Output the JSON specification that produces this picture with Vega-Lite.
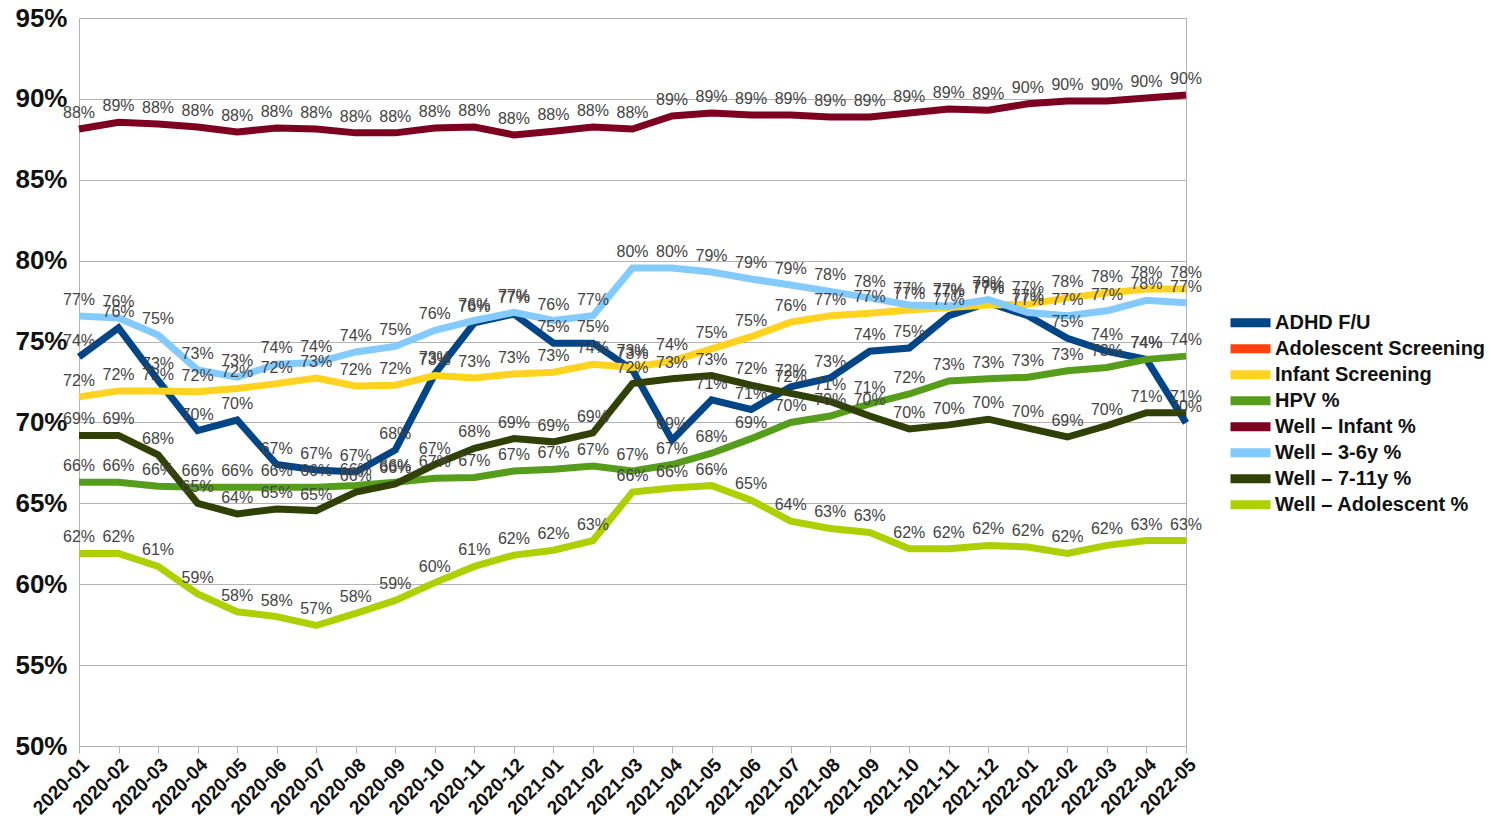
{
  "$schema": "https://vega.github.io/schema/vega-lite/v6.json",
  "autosize": "none",
  "padding": {"left": 79, "top": 18, "right": 305, "bottom": 83},
  "width": 1107,
  "height": 728,
  "background": "white",
  "config": {
    "font": "Liberation Sans",
    "view": {"stroke": "#b3b3b3", "strokeWidth": 1}
  },
  "data": {
    "values": [
      {"month": "2020-01", "ADHD F/U": 0.7405, "Infant Screening": 0.7158, "HPV %": 0.663, "Well – Infant %": 0.8814, "Well – 3-6y %": 0.7658, "Well – 7-11y %": 0.692, "Well – Adolescent %": 0.619},
      {"month": "2020-02", "ADHD F/U": 0.7584, "Infant Screening": 0.7195, "HPV %": 0.663, "Well – Infant %": 0.8855, "Well – 3-6y %": 0.7646, "Well – 7-11y %": 0.692, "Well – Adolescent %": 0.619},
      {"month": "2020-03", "ADHD F/U": 0.726, "Infant Screening": 0.7195, "HPV %": 0.6605, "Well – Infant %": 0.8845, "Well – 3-6y %": 0.754, "Well – 7-11y %": 0.68, "Well – Adolescent %": 0.611},
      {"month": "2020-04", "ADHD F/U": 0.695, "Infant Screening": 0.719, "HPV %": 0.66, "Well – Infant %": 0.8826, "Well – 3-6y %": 0.7325, "Well – 7-11y %": 0.65, "Well – Adolescent %": 0.594},
      {"month": "2020-05", "ADHD F/U": 0.7015, "Infant Screening": 0.721, "HPV %": 0.66, "Well – Infant %": 0.8795, "Well – 3-6y %": 0.728, "Well – 7-11y %": 0.6435, "Well – Adolescent %": 0.583},
      {"month": "2020-06", "ADHD F/U": 0.674, "Infant Screening": 0.724, "HPV %": 0.66, "Well – Infant %": 0.882, "Well – 3-6y %": 0.736, "Well – 7-11y %": 0.6465, "Well – Adolescent %": 0.58},
      {"month": "2020-07", "ADHD F/U": 0.6706, "Infant Screening": 0.7275, "HPV %": 0.66, "Well – Infant %": 0.8814, "Well – 3-6y %": 0.737, "Well – 7-11y %": 0.6455, "Well – Adolescent %": 0.5745},
      {"month": "2020-08", "ADHD F/U": 0.6694, "Infant Screening": 0.7226, "HPV %": 0.661, "Well – Infant %": 0.879, "Well – 3-6y %": 0.7436, "Well – 7-11y %": 0.657, "Well – Adolescent %": 0.582},
      {"month": "2020-09", "ADHD F/U": 0.683, "Infant Screening": 0.723, "HPV %": 0.663, "Well – Infant %": 0.879, "Well – 3-6y %": 0.747, "Well – 7-11y %": 0.662, "Well – Adolescent %": 0.59},
      {"month": "2020-10", "ADHD F/U": 0.73, "Infant Screening": 0.729, "HPV %": 0.6655, "Well – Infant %": 0.882, "Well – 3-6y %": 0.757, "Well – 7-11y %": 0.674, "Well – Adolescent %": 0.601},
      {"month": "2020-11", "ADHD F/U": 0.7615, "Infant Screening": 0.7275, "HPV %": 0.666, "Well – Infant %": 0.8826, "Well – 3-6y %": 0.763, "Well – 7-11y %": 0.684, "Well – Adolescent %": 0.611},
      {"month": "2020-12", "ADHD F/U": 0.767, "Infant Screening": 0.73, "HPV %": 0.67, "Well – Infant %": 0.8777, "Well – 3-6y %": 0.768, "Well – 7-11y %": 0.69, "Well – Adolescent %": 0.618},
      {"month": "2021-01", "ADHD F/U": 0.749, "Infant Screening": 0.731, "HPV %": 0.671, "Well – Infant %": 0.88, "Well – 3-6y %": 0.763, "Well – 7-11y %": 0.688, "Well – Adolescent %": 0.621},
      {"month": "2021-02", "ADHD F/U": 0.749, "Infant Screening": 0.736, "HPV %": 0.673, "Well – Infant %": 0.8826, "Well – 3-6y %": 0.766, "Well – 7-11y %": 0.6935, "Well – Adolescent %": 0.627},
      {"month": "2021-03", "ADHD F/U": 0.7325, "Infant Screening": 0.734, "HPV %": 0.67, "Well – Infant %": 0.8814, "Well – 3-6y %": 0.7955, "Well – 7-11y %": 0.724, "Well – Adolescent %": 0.657},
      {"month": "2021-04", "ADHD F/U": 0.689, "Infant Screening": 0.738, "HPV %": 0.674, "Well – Infant %": 0.8894, "Well – 3-6y %": 0.7955, "Well – 7-11y %": 0.727, "Well – Adolescent %": 0.6595},
      {"month": "2021-05", "ADHD F/U": 0.714, "Infant Screening": 0.7455, "HPV %": 0.681, "Well – Infant %": 0.8913, "Well – 3-6y %": 0.793, "Well – 7-11y %": 0.729, "Well – Adolescent %": 0.661},
      {"month": "2021-06", "ADHD F/U": 0.708, "Infant Screening": 0.753, "HPV %": 0.69, "Well – Infant %": 0.89, "Well – 3-6y %": 0.7887, "Well – 7-11y %": 0.723, "Well – Adolescent %": 0.652},
      {"month": "2021-07", "ADHD F/U": 0.722, "Infant Screening": 0.762, "HPV %": 0.7, "Well – Infant %": 0.89, "Well – 3-6y %": 0.785, "Well – 7-11y %": 0.718, "Well – Adolescent %": 0.639},
      {"month": "2021-08", "ADHD F/U": 0.7275, "Infant Screening": 0.766, "HPV %": 0.704, "Well – Infant %": 0.8888, "Well – 3-6y %": 0.781, "Well – 7-11y %": 0.713, "Well – Adolescent %": 0.6345},
      {"month": "2021-09", "ADHD F/U": 0.744, "Infant Screening": 0.7675, "HPV %": 0.7115, "Well – Infant %": 0.8888, "Well – 3-6y %": 0.777, "Well – 7-11y %": 0.704, "Well – Adolescent %": 0.632},
      {"month": "2021-10", "ADHD F/U": 0.746, "Infant Screening": 0.7695, "HPV %": 0.7176, "Well – Infant %": 0.8913, "Well – 3-6y %": 0.7726, "Well – 7-11y %": 0.696, "Well – Adolescent %": 0.622},
      {"month": "2021-11", "ADHD F/U": 0.766, "Infant Screening": 0.771, "HPV %": 0.7256, "Well – Infant %": 0.8938, "Well – 3-6y %": 0.772, "Well – 7-11y %": 0.6985, "Well – Adolescent %": 0.622},
      {"month": "2021-12", "ADHD F/U": 0.774, "Infant Screening": 0.7726, "HPV %": 0.727, "Well – Infant %": 0.893, "Well – 3-6y %": 0.776, "Well – 7-11y %": 0.702, "Well – Adolescent %": 0.624},
      {"month": "2022-01", "ADHD F/U": 0.766, "Infant Screening": 0.773, "HPV %": 0.728, "Well – Infant %": 0.897, "Well – 3-6y %": 0.768, "Well – 7-11y %": 0.6965, "Well – Adolescent %": 0.623},
      {"month": "2022-02", "ADHD F/U": 0.752, "Infant Screening": 0.777, "HPV %": 0.732, "Well – Infant %": 0.8987, "Well – 3-6y %": 0.766, "Well – 7-11y %": 0.691, "Well – Adolescent %": 0.619},
      {"month": "2022-03", "ADHD F/U": 0.744, "Infant Screening": 0.78, "HPV %": 0.734, "Well – Infant %": 0.8987, "Well – 3-6y %": 0.769, "Well – 7-11y %": 0.698, "Well – Adolescent %": 0.624},
      {"month": "2022-04", "ADHD F/U": 0.739, "Infant Screening": 0.7825, "HPV %": 0.739, "Well – Infant %": 0.9005, "Well – 3-6y %": 0.7755, "Well – 7-11y %": 0.706, "Well – Adolescent %": 0.627},
      {"month": "2022-05", "ADHD F/U": 0.6997, "Infant Screening": 0.7825, "HPV %": 0.741, "Well – Infant %": 0.9024, "Well – 3-6y %": 0.774, "Well – 7-11y %": 0.706, "Well – Adolescent %": 0.627}
    ]
  },
  "transform": [
    {"fold": ["ADHD F/U", "Infant Screening", "HPV %", "Well – Infant %", "Well – 3-6y %", "Well – 7-11y %", "Well – Adolescent %"], "as": ["series", "value"]}
  ],
  "encoding": {
    "x": {
      "field": "month",
      "type": "ordinal",
      "scale": {"type": "point", "padding": 0},
      "axis": {
        "title": null,
        "labelAngle": -45,
        "labelFontSize": 19,
        "labelFontWeight": "bold",
        "labelColor": "#111",
        "tickColor": "#b3b3b3",
        "tickSize": 7,
        "domainColor": "#b3b3b3",
        "labelPadding": 2,
        "grid": false
      }
    },
    "y": {
      "field": "value",
      "type": "quantitative",
      "scale": {"domain": [0.5, 0.95], "nice": false, "zero": false},
      "axis": {
        "title": null,
        "values": [0.5, 0.55, 0.6, 0.65, 0.7, 0.75, 0.8, 0.85, 0.9, 0.95],
        "format": ".0%",
        "labelFontSize": 26,
        "labelFontWeight": "bold",
        "labelColor": "#111",
        "gridColor": "#b3b3b3",
        "domainColor": "#b3b3b3",
        "ticks": false,
        "labelPadding": 12
      }
    },
    "color": {
      "field": "series",
      "type": "nominal",
      "scale": {
        "domain": ["ADHD F/U", "Adolescent Screening", "Infant Screening", "HPV %", "Well – Infant %", "Well – 3-6y %", "Well – 7-11y %", "Well – Adolescent %"],
        "range": ["#004586", "#ff420e", "#ffd320", "#579d1c", "#7e0021", "#83caff", "#314004", "#aecf00"]
      },
      "legend": {
        "title": null,
        "orient": "none",
        "legendX": 1147,
        "legendY": 292,
        "labelFontSize": 20,
        "labelFontWeight": "bold",
        "labelColor": "#111",
        "labelLimit": 0,
        "symbolType": "stroke",
        "symbolSize": 1600,
        "symbolStrokeWidth": 9,
        "clipHeight": 25.6,
        "rowPadding": 0,
        "labelOffset": 0
      }
    }
  },
  "layer": [
    {"mark": {"type": "line", "strokeWidth": 7}},
    {
      "mark": {"type": "text", "dy": -16, "fontSize": 16, "font": "Liberation Sans"},
      "encoding": {
        "text": {"field": "value", "type": "quantitative", "format": ".0%"},
        "color": {"value": "#444444"}
      }
    }
  ]
}
